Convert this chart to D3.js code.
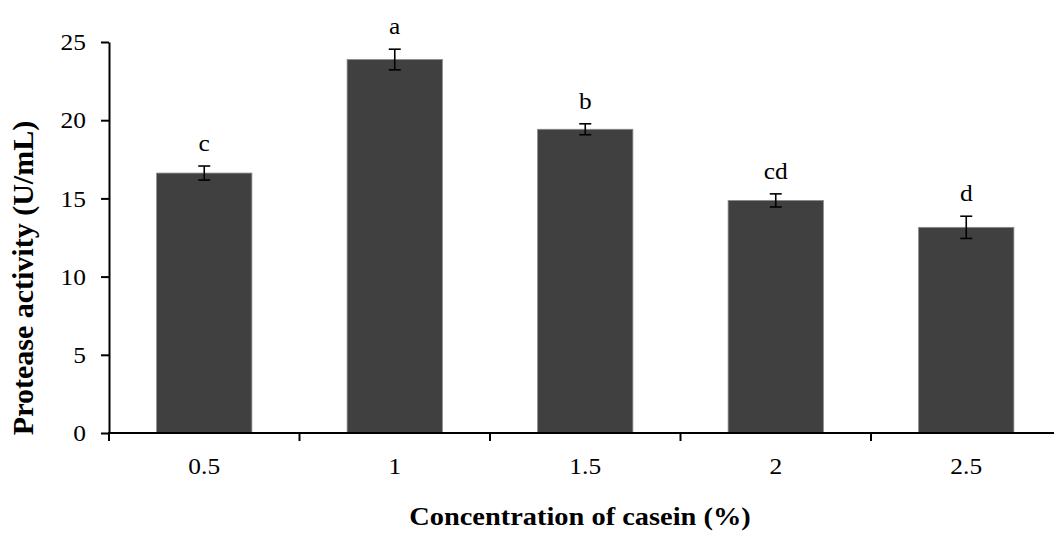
<!DOCTYPE html>
<html>
<head>
<meta charset="utf-8">
<script src="https://cdn.jsdelivr.net/npm/d3@7/dist/d3.min.js"></script>
<style>
  html, body { margin: 0; padding: 0; background: #fff; }
  svg { display: block; }
  text { font-family: "Liberation Serif", "Times New Roman", serif; fill: #000; }
</style>
</head>
<body>
<svg id="chart" width="1054" height="537"></svg>
<script>
// Casein concentration (%) vs protease activity (U/mL)
const categories = ["0.5", "1", "1.5", "2", "2.5"];
const activity   = [16.62, 23.88, 19.42, 14.87, 13.15];
const stdError   = [0.45, 0.66, 0.35, 0.42, 0.71];
const groupLetters = ["c", "a", "b", "cd", "d"];
const yTicks = [0, 5, 10, 15, 20, 25];

const svg = d3.select("#chart");
const plotLeft = 109, plotRight = 1061.5, plotTop = 42, plotBottom = 433;
const labelSize = "22.5px";
const wide = 1.13; // horizontal widening of the serif labels

const x = d3.scaleBand().domain(categories).range([plotLeft, plotRight]).padding(0);
const y = d3.scaleLinear().domain([0, 25]).range([plotBottom, plotTop]);

const barW = x.bandwidth() * 0.5;

// text placed at (px, py), widened horizontally around its anchor
function wideText(parent, px, py, str, size, sx, anchor) {
  return parent.append("text")
    .attr("transform", `translate(${px},${py}) scale(${sx},1)`)
    .attr("text-anchor", anchor || "middle")
    .style("font-size", size)
    .text(str);
}

// bars
svg.append("g").selectAll("rect")
  .data(categories)
  .join("rect")
  .attr("x", (d) => x(d) + (x.bandwidth() - barW) / 2)
  .attr("y", (d, i) => y(activity[i]))
  .attr("width", barW)
  .attr("height", (d, i) => y(0) - y(activity[i]))
  .attr("fill", "#404040")
  .attr("stroke", "#8a8a8a")
  .attr("stroke-width", 0.8);

// error bars and significance letters
const eb = svg.append("g").attr("stroke", "#000").attr("stroke-width", 1.6);
categories.forEach((c, i) => {
  const cx = x(c) + x.bandwidth() / 2;
  const hi = y(activity[i] + stdError[i]);
  const lo = y(activity[i] - stdError[i]);
  eb.append("line").attr("x1", cx).attr("x2", cx).attr("y1", hi).attr("y2", lo);
  eb.append("line").attr("x1", cx - 6).attr("x2", cx + 6).attr("y1", hi).attr("y2", hi);
  eb.append("line").attr("x1", cx - 6).attr("x2", cx + 6).attr("y1", lo).attr("y2", lo);
  wideText(svg, cx, hi - 15, groupLetters[i], labelSize, wide);
});

// y axis
const yAxis = svg.append("g")
  .attr("transform", `translate(${plotLeft},0)`)
  .call(d3.axisLeft(y).tickValues(yTicks).tickSize(8).tickPadding(15).tickSizeOuter(0));
yAxis.select(".domain").attr("stroke", "#000").attr("stroke-width", 2);
yAxis.selectAll(".tick line").attr("stroke", "#000").attr("stroke-width", 2);
yAxis.selectAll(".tick text")
  .attr("x", -23 / wide)
  .attr("dy", "0.34em")
  .attr("transform", `scale(${wide},1)`)
  .style("font-family", "'Liberation Serif', serif")
  .style("font-size", labelSize);

// x axis: ticks at band boundaries, labels at band centers
const xAxisG = svg.append("g").attr("transform", `translate(0,${plotBottom})`);
xAxisG.append("line")
  .attr("x1", plotLeft - 1).attr("x2", plotRight)
  .attr("stroke", "#000").attr("stroke-width", 2);
categories.forEach((c) => {
  xAxisG.append("line")
    .attr("x1", x(c)).attr("x2", x(c))
    .attr("y1", 0).attr("y2", 8)
    .attr("stroke", "#000").attr("stroke-width", 2);
  wideText(xAxisG, x(c) + x.bandwidth() / 2, 41, c, labelSize, wide);
});

// axis titles
wideText(svg, 580, 525, "Concentration of casein (%)", "24.5px", 1.16)
  .style("font-weight", "bold");

svg.append("text")
  .attr("transform", "translate(33,278) rotate(-90)")
  .attr("text-anchor", "middle")
  .style("font-size", "30px")
  .style("font-weight", "bold")
  .text("Protease activity (U/mL)");
</script>
</body>
</html>
